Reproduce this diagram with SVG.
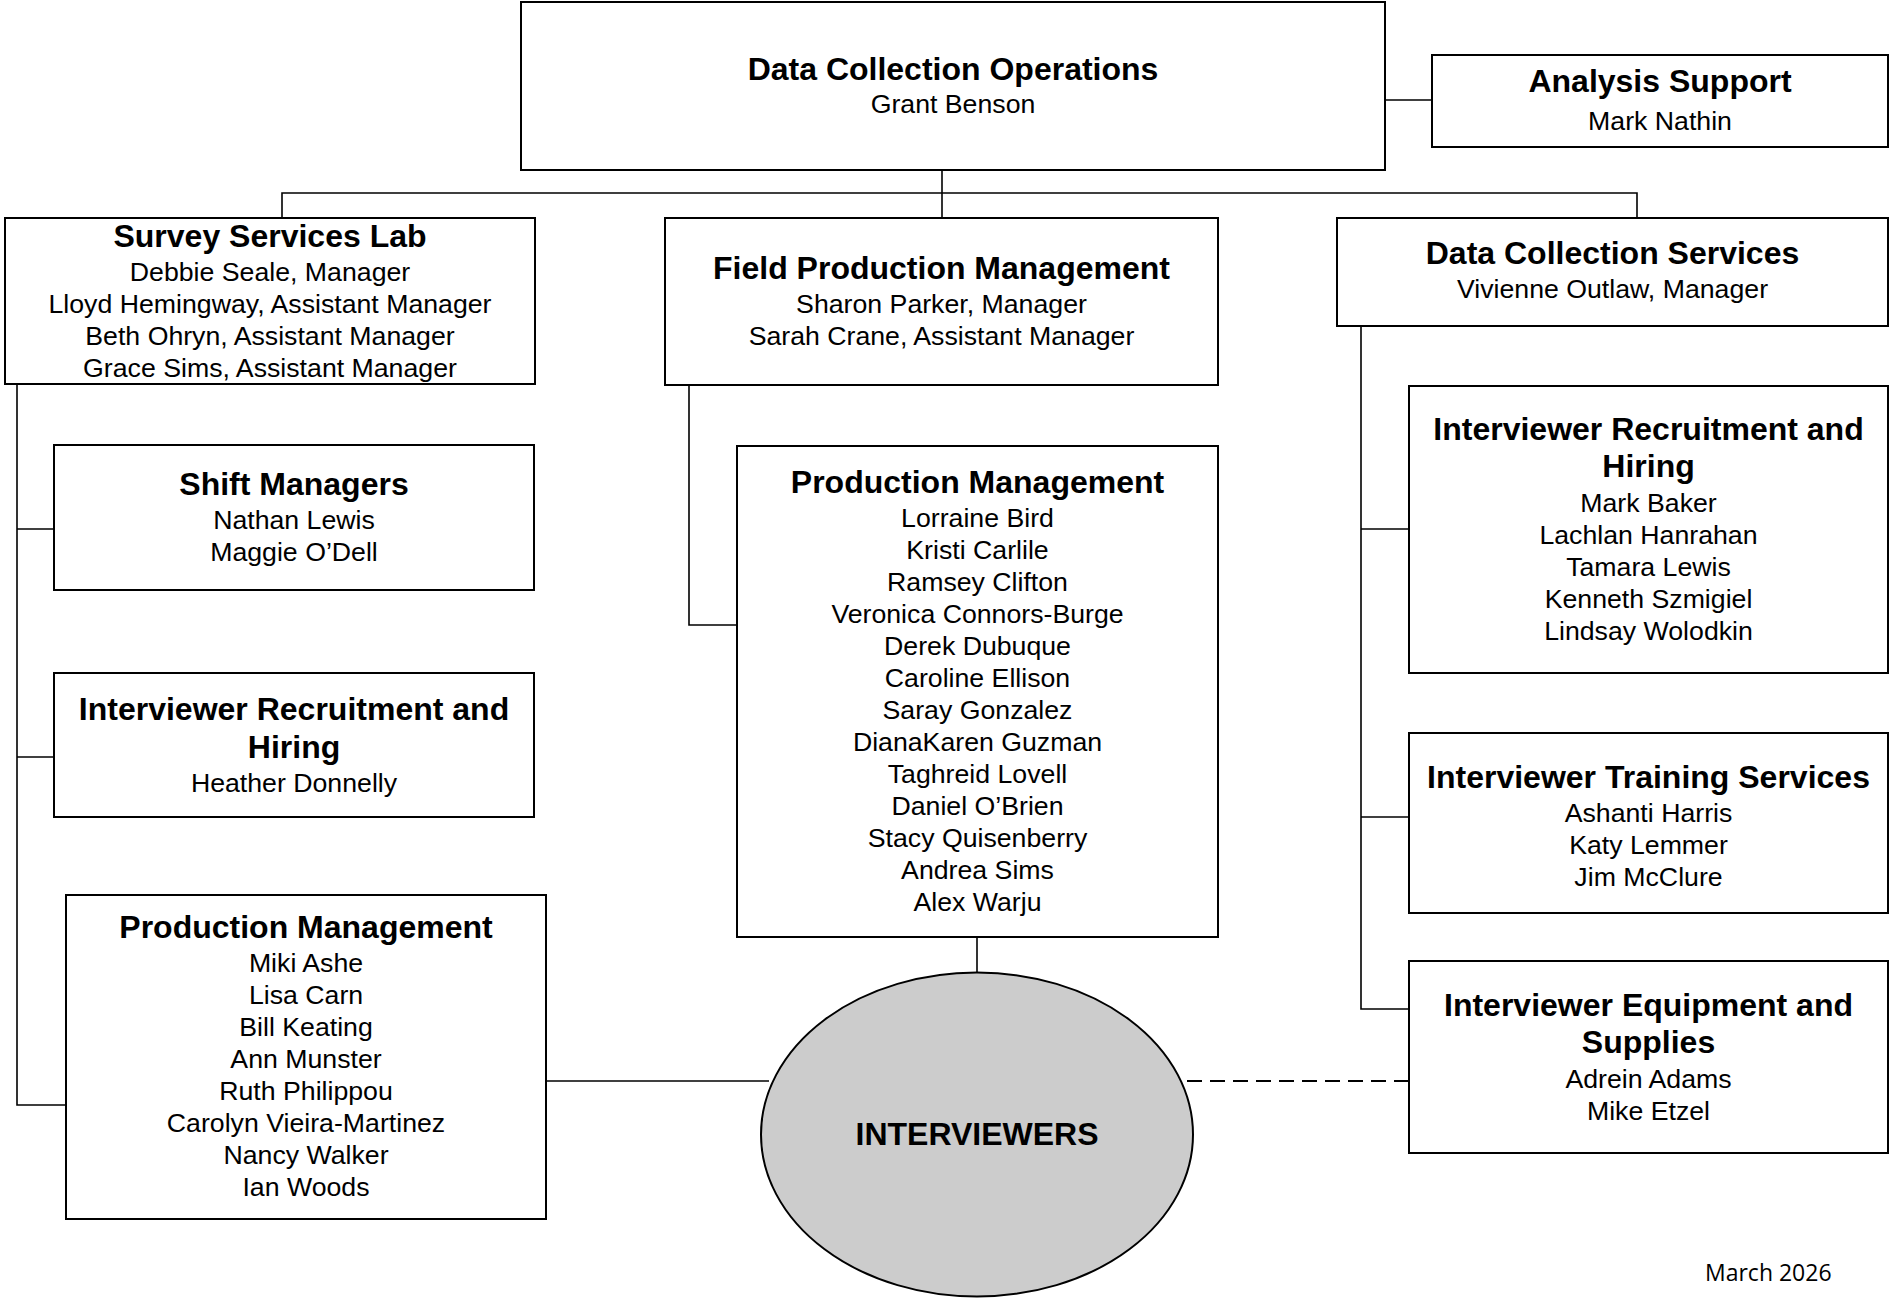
<svg xmlns="http://www.w3.org/2000/svg" width="1890" height="1298" viewBox="0 0 1890 1298">
<style>
.box{fill:#fff;stroke:#000;stroke-width:2}
.ell{fill:#cccccc;stroke:#000;stroke-width:2}
.con{stroke:#000;stroke-width:1.6;fill:none}
.dash{stroke:#000;stroke-width:1.8;fill:none;stroke-dasharray:15 8}
text{font-family:"Liberation Sans",Arial,sans-serif;fill:#000;text-anchor:middle}
.h{font-size:32px;font-weight:bold}
.n{font-size:26.7px}
.date{font-family:"Open Sans","Liberation Sans",sans-serif;font-size:23px;text-anchor:start}
</style>
<rect width="1890" height="1298" fill="#fff"/>
<g id="connectors">
<line class="con" x1="1385" y1="100" x2="1432" y2="100"/>
<polyline class="con" points="942,170 942,218"/>
<polyline class="con" points="282,218 282,193 1637,193 1637,218"/>
<polyline class="con" points="17,384 17,1105 66,1105"/>
<line class="con" x1="17" y1="529" x2="54" y2="529"/>
<line class="con" x1="17" y1="757" x2="54" y2="757"/>
<polyline class="con" points="689,385 689,625 737,625"/>
<line class="con" x1="977" y1="937" x2="977" y2="972"/>
<line class="con" x1="546" y1="1081" x2="769" y2="1081"/>
<line class="dash" x1="1187" y1="1081" x2="1409" y2="1081"/>
<polyline class="con" points="1361,326 1361,1009 1409,1009"/>
<line class="con" x1="1361" y1="529" x2="1409" y2="529"/>
<line class="con" x1="1361" y1="817" x2="1409" y2="817"/>
</g>
<g id="data-collection-operations">
<rect class="box" x="521" y="2" width="864" height="168"/>
<text class="h" x="953" y="80">Data Collection Operations</text>
<text class="n" x="953" y="113">Grant Benson</text>
</g>
<g id="analysis-support">
<rect class="box" x="1432" y="55" width="456" height="92"/>
<text class="h" x="1660" y="92">Analysis Support</text>
<text class="n" x="1660" y="130">Mark Nathin</text>
</g>
<g id="survey-services-lab">
<rect class="box" x="5" y="218" width="530" height="166"/>
<text class="h" x="270" y="247">Survey Services Lab</text>
<text class="n" x="270" y="281">Debbie Seale, Manager</text>
<text class="n" x="270" y="313">Lloyd Hemingway, Assistant Manager</text>
<text class="n" x="270" y="345">Beth Ohryn, Assistant Manager</text>
<text class="n" x="270" y="377">Grace Sims, Assistant Manager</text>
</g>
<g id="shift-managers">
<rect class="box" x="54" y="445" width="480" height="145"/>
<text class="h" x="294" y="495">Shift Managers</text>
<text class="n" x="294" y="529">Nathan Lewis</text>
<text class="n" x="294" y="561">Maggie O’Dell</text>
</g>
<g id="recruitment-left">
<rect class="box" x="54" y="673" width="480" height="144"/>
<text class="h" x="294" y="720">Interviewer Recruitment and</text>
<text class="h" x="294" y="758">Hiring</text>
<text class="n" x="294" y="792">Heather Donnelly</text>
</g>
<g id="production-left">
<rect class="box" x="66" y="895" width="480" height="324"/>
<text class="h" x="306" y="938">Production Management</text>
<text class="n" x="306" y="972">Miki Ashe</text>
<text class="n" x="306" y="1004">Lisa Carn</text>
<text class="n" x="306" y="1036">Bill Keating</text>
<text class="n" x="306" y="1068">Ann Munster</text>
<text class="n" x="306" y="1100">Ruth Philippou</text>
<text class="n" x="306" y="1132">Carolyn Vieira-Martinez</text>
<text class="n" x="306" y="1164">Nancy Walker</text>
<text class="n" x="306" y="1196">Ian Woods</text>
</g>
<g id="field-production">
<rect class="box" x="665" y="218" width="553" height="167"/>
<text class="h" x="941.5" y="279">Field Production Management</text>
<text class="n" x="941.5" y="313">Sharon Parker, Manager</text>
<text class="n" x="941.5" y="345">Sarah Crane, Assistant Manager</text>
</g>
<g id="production-middle">
<rect class="box" x="737" y="446" width="481" height="491"/>
<text class="h" x="977.5" y="493">Production Management</text>
<text class="n" x="977.5" y="527">Lorraine Bird</text>
<text class="n" x="977.5" y="559">Kristi Carlile</text>
<text class="n" x="977.5" y="591">Ramsey Clifton</text>
<text class="n" x="977.5" y="623">Veronica Connors-Burge</text>
<text class="n" x="977.5" y="655">Derek Dubuque</text>
<text class="n" x="977.5" y="687">Caroline Ellison</text>
<text class="n" x="977.5" y="719">Saray Gonzalez</text>
<text class="n" x="977.5" y="751">DianaKaren Guzman</text>
<text class="n" x="977.5" y="783">Taghreid Lovell</text>
<text class="n" x="977.5" y="815">Daniel O’Brien</text>
<text class="n" x="977.5" y="847">Stacy Quisenberry</text>
<text class="n" x="977.5" y="879">Andrea Sims</text>
<text class="n" x="977.5" y="911">Alex Warju</text>
</g>
<g id="interviewers">
<ellipse class="ell" cx="977" cy="1134.5" rx="216" ry="162"/>
<text class="h" x="977" y="1145">INTERVIEWERS</text>
</g>
<g id="data-collection-services">
<rect class="box" x="1337" y="218" width="551" height="108"/>
<text class="h" x="1612.5" y="264">Data Collection Services</text>
<text class="n" x="1612.5" y="298">Vivienne Outlaw, Manager</text>
</g>
<g id="recruitment-right">
<rect class="box" x="1409" y="386" width="479" height="287"/>
<text class="h" x="1648.5" y="440">Interviewer Recruitment and</text>
<text class="h" x="1648.5" y="477">Hiring</text>
<text class="n" x="1648.5" y="512">Mark Baker</text>
<text class="n" x="1648.5" y="544">Lachlan Hanrahan</text>
<text class="n" x="1648.5" y="576">Tamara Lewis</text>
<text class="n" x="1648.5" y="608">Kenneth Szmigiel</text>
<text class="n" x="1648.5" y="640">Lindsay Wolodkin</text>
</g>
<g id="training">
<rect class="box" x="1409" y="733" width="479" height="180"/>
<text class="h" x="1648.5" y="788">Interviewer Training Services</text>
<text class="n" x="1648.5" y="822">Ashanti Harris</text>
<text class="n" x="1648.5" y="854">Katy Lemmer</text>
<text class="n" x="1648.5" y="886">Jim McClure</text>
</g>
<g id="equipment">
<rect class="box" x="1409" y="961" width="479" height="192"/>
<text class="h" x="1648.5" y="1016">Interviewer Equipment and</text>
<text class="h" x="1648.5" y="1053">Supplies</text>
<text class="n" x="1648.5" y="1088">Adrein Adams</text>
<text class="n" x="1648.5" y="1120">Mike Etzel</text>
</g>
<text class="date" x="1705" y="1281">March 2026</text>
</svg>
